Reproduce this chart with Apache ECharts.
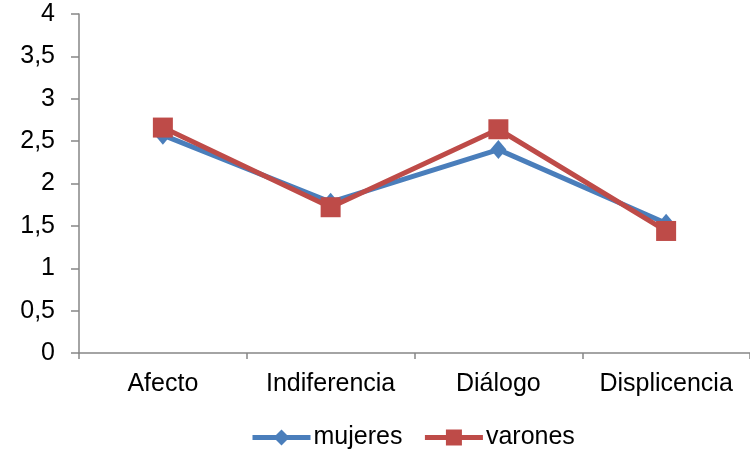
<!DOCTYPE html>
<html>
<head>
<meta charset="utf-8">
<script src="https://cdn.jsdelivr.net/npm/echarts@6/dist/echarts.min.js"></script>
<style>
  html, body { margin: 0; padding: 0; background: #fff; }
  #chart { width: 750px; height: 452px; }
</style>
</head>
<body>
<div id="chart"></div>
<script>
// Categories and mean scores per group
var categories = ['Afecto', 'Indiferencia', 'Diálogo', 'Displicencia'];
var mujeres = [2.57, 1.78, 2.40, 1.53];
var varones = [2.66, 1.72, 2.64, 1.44];
var seriesNames = ['mujeres', 'varones'];

var chart = echarts.init(document.getElementById('chart'));
var font = '"Liberation Sans", Arial, sans-serif';
var axisGray = '#868686';

chart.setOption({
  animation: false,
  grid: { left: 79, top: 14, right: -1, bottom: 99 },
  legend: {
    top: 420,
    left: 245,
    itemWidth: 58,
    itemHeight: 20,
    itemGap: 20,
    lineStyle: { width: 5 },
    textStyle: { fontFamily: font, fontSize: 25, color: '#000', padding: [0, 0, 0, -2] },
    data: seriesNames
  },
  xAxis: {
    type: 'category',
    data: categories,
    boundaryGap: true,
    axisLine: { lineStyle: { color: axisGray, width: 1.5 } },
    axisTick: { show: true, length: 6, lineStyle: { color: axisGray, width: 1.5 } },
    axisLabel: { interval: 0, fontFamily: font, fontSize: 25, color: '#000', margin: 19 }
  },
  yAxis: {
    type: 'value',
    min: 0,
    max: 4,
    interval: 0.5,
    splitLine: { show: false },
    axisLine: { show: true, lineStyle: { color: axisGray, width: 1.5 } },
    axisTick: { show: true, length: 8, lineStyle: { color: axisGray, width: 1.5 } },
    axisLabel: {
      fontFamily: font, fontSize: 25, color: '#000', margin: 24,
      formatter: function (v) { return String(v).replace('.', ','); }
    }
  },
  series: [
    {
      name: seriesNames[0],
      type: 'line',
      data: mujeres,
      symbol: 'diamond',
      symbolSize: [16, 19],
      lineStyle: { color: '#4A7EBB', width: 5 },
      itemStyle: { color: '#4A7EBB' }
    },
    {
      name: seriesNames[1],
      type: 'line',
      data: varones,
      symbol: 'rect',
      symbolSize: 20,
      lineStyle: { color: '#BE4B48', width: 5 },
      itemStyle: { color: '#BE4B48' }
    }
  ]
});
</script>
</body>
</html>
